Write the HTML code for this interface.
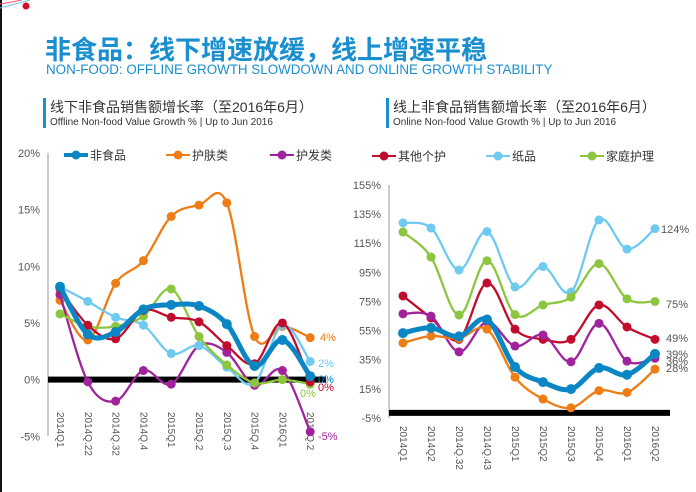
<!DOCTYPE html>
<html><head><meta charset="utf-8">
<style>
body{margin:0;width:696px;height:492px;background:#fff;overflow:hidden;font-family:"Liberation Sans","Noto Sans CJK SC",sans-serif;position:relative}
.t{position:absolute;white-space:nowrap}
</style></head><body>
<div class="t" style="left:0;top:0;width:2px;height:492px;background:#111"></div>
<svg class="t" style="left:0;top:0" width="40" height="14"><path d="M0 8 Q15 4 30 0" stroke="#6cc6ee" fill="none"/><path d="M0 4 Q12 2 22 0" stroke="#e57" fill="none"/><circle cx="26" cy="6" r="3.5" fill="#d0112b"/></svg>
<div class="t" style="left:45px;top:30px;font-size:26px;font-weight:bold;color:#1a8fd0;font-family:'Liberation Sans','Noto Sans CJK SC',sans-serif">非食品：线下增速放缓，线上增速平稳</div>
<div class="t" style="left:46px;top:62px;font-size:13.4px;color:#1a8fd0">NON-FOOD: OFFLINE GROWTH SLOWDOWN AND ONLINE GROWTH STABILITY</div>
<div class="t" style="left:43px;top:98px;width:3px;height:30px;background:#1a8fd0"></div>
<div class="t" style="left:50px;top:97px;font-size:14px;color:#333">线下非食品销售额增长率（至2016年6月）</div>
<div class="t" style="left:50px;top:117px;font-size:10px;color:#333">Offline Non-food Value Growth % | Up to Jun 2016</div>
<div class="t" style="left:386px;top:98px;width:3px;height:30px;background:#1a8fd0"></div>
<div class="t" style="left:393px;top:97px;font-size:14px;color:#333">线上非食品销售额增长率（至2016年6月）</div>
<div class="t" style="left:393px;top:117px;font-size:10px;color:#333">Online Non-food Value Growth % | Up to Jun 2016</div>
<svg id="chart" class="t" style="left:0;top:0" width="696" height="492"></svg>
<script>
const leftCats=["2014Q1","2014Q.22","2014Q.32","2014Q.4","2015Q1","2015Q.2","2015Q.3","2015Q.4","2016Q1","2016Q.2"];
const rightCats=["2014Q1","2014Q2","2014Q.32","2014Q.43","2015Q1","2015Q2","2015Q3","2015Q4","2016Q1","2016Q2"];
const leftTicks=[20,15,10,5,0,-5];
const rightTicks=[155,135,115,95,75,55,35,15,-5];
const seriesNames=["非食品","护肤类","护发类","其他个护","纸品","家庭护理"];
const colors=["#0a86c4","#ee7d16","#a1239b","#c00d2d","#6fcaf0","#8cc63f"];
const L_nonfood=[8.2,4.0,4.2,6.2,6.6,6.5,4.9,1.2,3.5,0.3];
const L_skin=[7.0,3.5,8.5,10.5,14.4,15.4,15.6,3.8,4.7,3.7];
const L_hair=[7.5,-0.2,-1.9,0.8,-0.4,3.0,2.4,-0.5,0.8,-4.6];
const L_other=[8.0,4.8,3.6,6.1,5.5,5.1,3.0,1.4,5.0,-0.2];
const L_paper=[8.2,6.9,5.5,4.8,2.3,3.0,1.1,-0.3,4.8,1.6];
const L_home=[5.8,4.7,4.7,5.6,8.0,3.8,1.3,-0.3,0.0,-0.4];
const L_labels=["0%","4%","-5%","0%","2%","0%"];
const R_nonfood=[53.3,56.9,51,62.6,30,19.6,14.8,29.3,24.7,39];
const R_skin=[46.5,51.3,49.6,56,23,8,2,13.8,12.5,28.5];
const R_hair=[66.5,64.9,40.4,61,44.4,52,33.6,60,34,36];
const R_other=[78.8,63.7,49,87.7,56,49,49,72.6,57.5,49];
const R_paper=[129,125.5,96.6,123,85,99,81.5,131,111,125];
const R_home=[122.7,105.5,65.7,103,66,72.6,78,101,76.8,75];
const R_labels=["39%","28%","36%","49%","124%","75%"];
const NS="http://www.w3.org/2000/svg";
const svg=document.getElementById('chart');
function mk(tag,attrs,parent){const e=document.createElementNS(NS,tag);for(const k in attrs)e.setAttribute(k,attrs[k]);(parent||svg).appendChild(e);return e;}
function smooth(pts){let d="M"+pts[0][0]+" "+pts[0][1];for(let i=0;i<pts.length-1;i++){const p0=pts[Math.max(0,i-1)],p1=pts[i],p2=pts[i+1],p3=pts[Math.min(pts.length-1,i+2)];const t=0.17;d+=" C"+(p1[0]+(p2[0]-p0[0])*t)+" "+(p1[1]+(p2[1]-p0[1])*t)+" "+(p2[0]-(p3[0]-p1[0])*t)+" "+(p2[1]-(p3[1]-p1[1])*t)+" "+p2[0]+" "+p2[1];}return d;}
function drawChart(o){
  const g=mk('g',{});
  
  
  const x=i=>o.x0+i*o.step;
  const y=v=>o.yTop+(o.vTop-v)*o.ppu;
  const ax=mk('line',{x1:o.axisX,x2:o.axisX,y1:y(o.ticks[0]),y2:y(o.ticks[o.ticks.length-1]),stroke:'#999','stroke-width':1},g);
  
  
  o.ticks.forEach(t=>{const tx=mk('text',{x:o.axisX-8,y:y(t)+4,'text-anchor':'end','font-size':11,fill:'#555'},g);tx.textContent=t+"%";
    
    });
  o.cats.forEach((c,i)=>{const tx=mk('text',{transform:`translate(${x(i)-3},${o.catY}) rotate(90)`,'font-size':10,fill:'#555'},g);tx.textContent=c;
    
    });
  const zb=mk('rect',{x:o.axisX,y:y(o.zeroV)-3,width:o.zeroW,height:6,fill:'#000'},g);
  
  
  o.order.forEach(si=>{
    const vals=o.data[si];const pts=vals.map((v,i)=>[x(i),y(v)]);
    const sg=mk('g',{},g);
    
    
    mk('path',{d:smooth(pts),fill:'none',stroke:colors[si],'stroke-width':si==0?5:2.3},sg);
    pts.forEach(p=>{const c=mk('circle',{cx:p[0],cy:p[1],r:si==0?5:4.5,fill:colors[si]},sg);
      
      });
  });
  o.labelPos.forEach((lp,si)=>{const tx=mk('text',{x:lp[0],y:lp[1],'font-size':11,fill:o.labelColor?o.labelColor:colors[si]},g);tx.textContent=o.labels[si];
    
    });
  o.legend.forEach((lg,k)=>{const si=lg[2];const lgG=mk('g',{},g);
    
    
    mk('line',{x1:lg[0],x2:lg[0]+24,y1:lg[1],y2:lg[1],stroke:colors[si],'stroke-width':si==0?4:2},lgG);
    mk('circle',{cx:lg[0]+12,cy:lg[1],r:4.5,fill:colors[si]},lgG);
    const tx=mk('text',{x:lg[0]+26,y:lg[1]+4.5,'font-size':12,fill:'#333'},lgG);tx.textContent=seriesNames[si];});
}
drawChart({name:'offline-chart',cats:leftCats,ticks:leftTicks,x0:60,step:27.8,yTop:153,vTop:20,ppu:11.33,axisX:48,catY:412,zeroV:0,zeroW:278,
  data:[L_nonfood,L_skin,L_hair,L_other,L_paper,L_home],order:[1,2,4,5,3,0],labels:L_labels,
  labelPos:[[318,383],[320,341],[318,440],[318,391],[318,367],[300,397]],
  legend:[[64,155,0],[166,155,1],[270,155,2]]});
drawChart({name:'online-chart',cats:rightCats,ticks:rightTicks,x0:403,step:28,yTop:185,vTop:155,ppu:1.456,axisX:389,catY:426,zeroV:-1.5,zeroW:281,
  data:[R_nonfood,R_skin,R_hair,R_other,R_paper,R_home],order:[4,5,3,2,1,0],labels:R_labels,labelColor:'#555',
  labelPos:[[666,358],[666,372],[666,365],[666,342],[661,233],[666,308]],
  legend:[[372,156,3],[486,156,4],[580,156,5]]});
</script>
</body></html>
